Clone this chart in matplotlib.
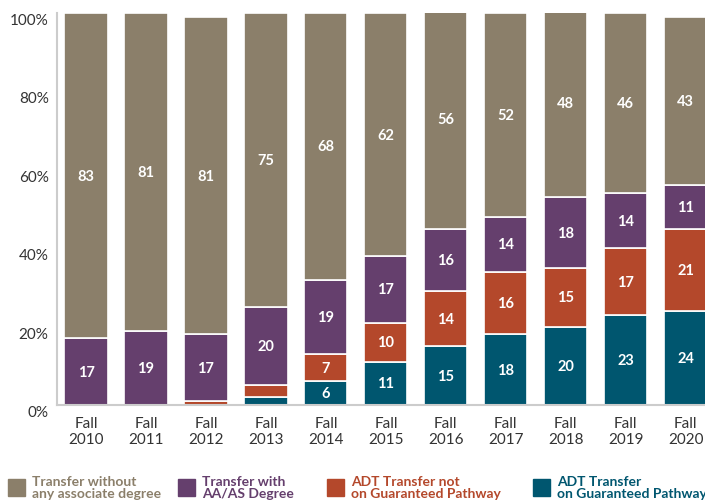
import matplotlib
matplotlib.use("Agg")
import matplotlib.pyplot as plt
from matplotlib.patches import Rectangle

years = ["2010", "2011", "2012", "2013", "2014", "2015", "2016", "2017", "2018", "2019", "2020"]
adt_on = [0, 0, 0, 2, 6, 11, 15, 18, 20, 23, 24]
adt_not = [0, 0, 1, 3, 7, 10, 14, 16, 15, 17, 21]
aa_as = [17, 19, 17, 20, 19, 17, 16, 14, 18, 14, 11]
no_degree = [83, 81, 81, 75, 68, 62, 56, 52, 48, 46, 43]

series = [adt_on, adt_not, aa_as, no_degree]
colors = ["#00566F", "#B4482B", "#653F6D", "#8B7F6A"]
legend_labels = [
    "Transfer without\nany associate degree",
    "Transfer with\nAA/AS Degree",
    "ADT Transfer not\non Guaranteed Pathway",
    "ADT Transfer\non Guaranteed Pathway",
]
legend_colors = ["#8B7F6A", "#653F6D", "#B4482B", "#00566F"]

plt.rcParams["font.family"] = ["Lato", "DejaVu Sans"]

fig = plt.figure(figsize=(7.05, 5.02), dpi=100)
ax = fig.add_axes([57 / 705, 96 / 502, 1 - 57 / 705, 392 / 502])

x = list(range(len(years)))
bottom = [0] * len(years)
for vals, col in zip(series, colors):
    ax.bar(x, vals, bottom=bottom, width=0.72, color=col, edgecolor="white", linewidth=1.2)
    for i, v in enumerate(vals):
        if v >= 5:
            ax.text(i, bottom[i] + v / 2, str(v), ha="center", va="center",
                    color="white", fontsize=10.5, fontweight="bold")
    bottom = [b + v for b, v in zip(bottom, vals)]

ax.set_xlim(-0.483, 10.32)
ax.set_ylim(0, 100)
ax.set_yticks([0, 20, 40, 60, 80, 100])
ax.set_yticklabels([f"{t}%" for t in [0, 20, 40, 60, 80, 100]], va="top")
ax.set_xticks(x)
ax.set_xticklabels([f"Fall\n{y}" for y in years])
ax.tick_params(axis="both", length=0, labelsize=11, colors="#333333")
ax.tick_params(axis="y", pad=6)
ax.tick_params(axis="x", pad=8)
for s in ["top", "right"]:
    ax.spines[s].set_visible(False)
for s in ["left", "bottom"]:
    ax.spines[s].set_color("#cccccc")
    ax.spines[s].set_linewidth(1.5)

box_x = [8, 178, 327, 533]
for bx, lab, col in zip(box_x, legend_labels, legend_colors):
    fig.add_artist(Rectangle((bx / 705, 5 / 502), 17 / 705, 17 / 502,
                             transform=fig.transFigure, color=col))
    fig.text((bx + 24) / 705, 14 / 502, lab, color=col, fontsize=10,
             fontweight="bold", va="center", ha="left", linespacing=1.0)

fig.savefig("out.png", dpi=100)
